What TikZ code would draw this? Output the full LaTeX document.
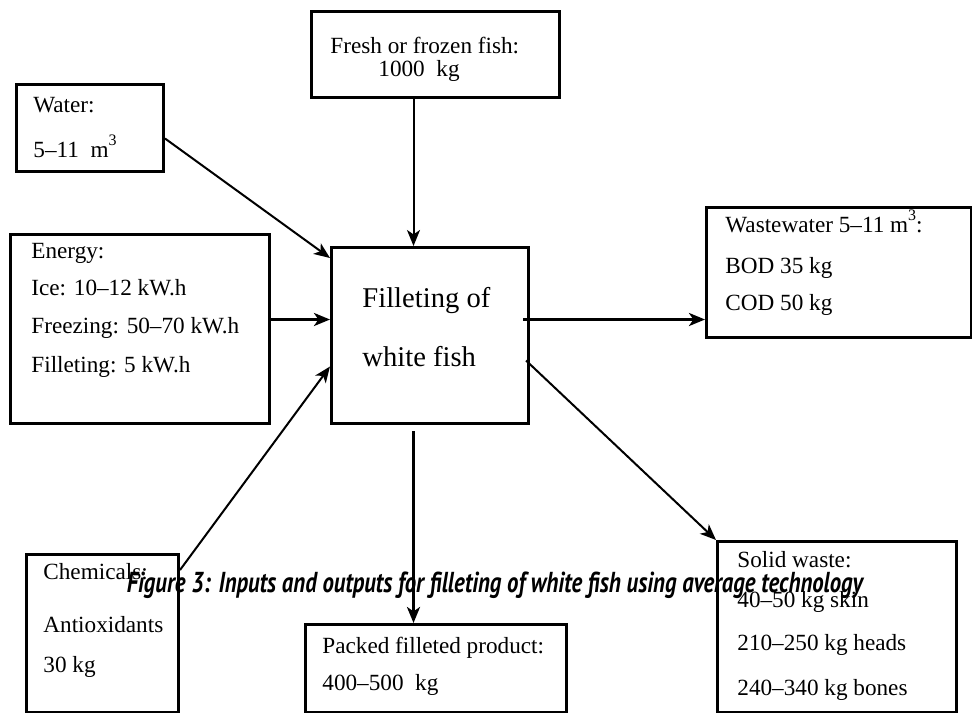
\documentclass[tikz,border=0pt]{standalone}
\usepackage{fontspec}
\setmainfont{Liberation Serif}
\newfontfamily\capfont{PT Sans}
\usetikzlibrary{arrows.meta}

% one unit = one pixel of the 972 x 712 canvas
\tikzset{
  x=0.5pt, y=-0.5pt,
  box/.style={draw, line width=1.5pt, anchor=north west, inner sep=0pt},
  lbl/.style={anchor=base west, inner sep=0pt, font=\fontsize{11.6}{14}\selectfont},
  biglbl/.style={anchor=base west, inner sep=0pt, font=\fontsize{14.3}{17}\selectfont},
  flow/.style={line width=1pt, -{Stealth[length=8pt, width=6.5pt, inset=2.2pt]}},
  thickflow/.style={flow, line width=1.5pt},
}
\newcommand{\cubic}{\raisebox{0.5em}{\fontsize{8}{8}\selectfont 3}}

\begin{document}
\begin{tikzpicture}
\useasboundingbox (0,0) rectangle (972,712);

% boxes
\node[box, minimum width=124pt,   minimum height=43pt]    (fresh)  at (310,10)  {};
\node[box, minimum width=73.5pt,  minimum height=43.5pt]  (water)  at (15,83)   {};
\node[box, minimum width=129.5pt, minimum height=94.5pt]  (energy) at (9,233)   {};
\node[box, minimum width=98.5pt,  minimum height=88pt]    (main)   at (330,246) {};
\node[box, minimum width=132.5pt, minimum height=65pt]    (waste)  at (705,206) {};
\node[box, minimum width=76pt,    minimum height=78.75pt] (chem)   at (25,553)  {};
\node[box, minimum width=130.5pt, minimum height=43.75pt] (packed) at (304,623) {};
\node[box, minimum width=119.5pt, minimum height=85.25pt] (solid)  at (716,540) {};

% box texts
\node[lbl] (fresh1) at (330,53) {Fresh or frozen fish:};
\node[lbl] (fresh2) at (378,76) {1000\ \ kg};

\node[lbl] (water1) at (33,112) {Water:};
\node[lbl] (water2) at (33,157) {5–11\ \ m\cubic};

\node[lbl] (energy1) at (31,258) {Energy:};
\node[lbl] (energy2) at (31,295) {Ice: 10–12 kW.h};
\node[lbl] (energy3) at (31,333) {Freezing: 50–70 kW.h};
\node[lbl] (energy4) at (31,372) {Filleting: 5 kW.h};

\node[biglbl] (main1) at (362,307) {Filleting of};
\node[biglbl] (main2) at (362,366) {white fish};

\node[lbl] (waste1) at (725,232) {Wastewater 5–11 m\cubic:};
\node[lbl] (waste2) at (725,273) {BOD 35 kg};
\node[lbl] (waste3) at (725,310) {COD 50 kg};

\node[lbl] (chem1) at (43,579) {Chemicals:};
\node[lbl] (chem2) at (43,632) {Antioxidants};
\node[lbl] (chem3) at (43,672) {30 kg};

\node[lbl] (packed1) at (322,653) {Packed filleted product:};
\node[lbl] (packed2) at (322,690) {400–500\ \ kg};

\node[lbl] (solid1) at (737,567) {Solid waste:};
\node[lbl] (solid2) at (737,607) {40–50 kg skin};
\node[lbl] (solid3) at (737,650) {210–250 kg heads};
\node[lbl] (solid4) at (737,695) {240–340 kg bones};

% inputs
\draw[flow] ([xshift=-11pt]fresh.south) -- ([xshift=-8.25pt]main.north);
\draw[flow] ([yshift=-5.25pt]water.east) -- ([yshift=-6pt]main.north west);
\draw[thickflow] ([yshift=4.75pt]energy.east) -- ([yshift=8pt]main.west);
\draw[flow] ([yshift=-8.5pt]chem.north east) -- ([yshift=-15.5pt]main.west);

% outputs
\draw[thickflow] ([xshift=-3.5pt, yshift=8pt]main.east) -- ([yshift=-23.5pt]waste.west);
\draw[flow] ([xshift=-2pt, yshift=-12.5pt]main.east) -- (solid.north west);
\draw[thickflow] ([xshift=-8.25pt, yshift=-3pt]main.south) -- ([xshift=-11.25pt]packed.north);

% caption
\node[anchor=base, inner sep=0pt] (caption) at (495,592)
  {\resizebox{368pt}{10.3pt}{\capfont\bfseries\itshape Figure 3: Inputs and outputs for filleting of white fish using average technology}};
\end{tikzpicture}
\end{document}
